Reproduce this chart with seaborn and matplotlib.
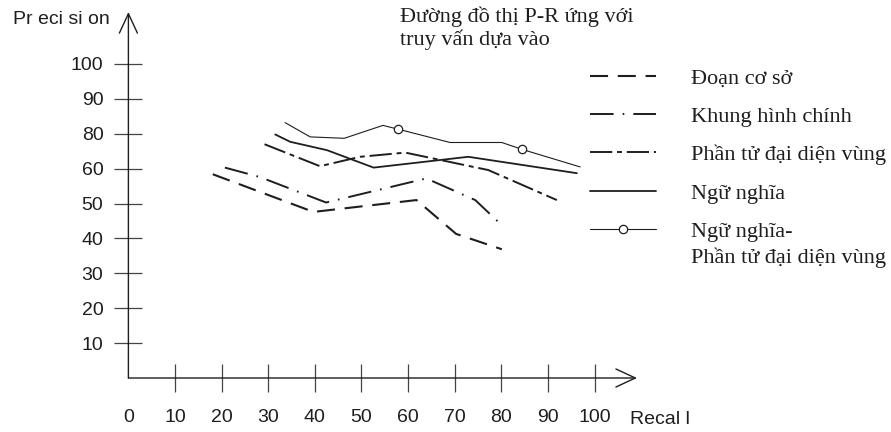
import matplotlib
matplotlib.use("Agg")
import matplotlib.pyplot as plt
from matplotlib.legend_handler import HandlerLine2D
import seaborn as sns
import pandas as pd

# values; y is in tick-position units (ticks at 10..90)
doan_x = [18.1, 39.7, 61.8, 70.3, 80.1]
doan_y = [58.4, 47.6, 51.0, 41.3, 36.9]

khung_x = [20.7, 28.2, 42.4, 63.9, 74.4, 79.7]
khung_y = [60.3, 57.6, 50.3, 57.2, 51.0, 44.3]

phantu_x = [29.2, 41.1, 49.7, 59.4, 77.2, 91.9]
phantu_y = [67.0, 60.7, 63.4, 64.6, 59.6, 51.0]

ngunghia_x = [31.5, 34.7, 42.6, 52.6, 72.9, 96.2]
ngunghia_y = [69.8, 67.7, 65.3, 60.3, 63.4, 58.7]

nn_pt_x = [33.6, 39.0, 46.3, 54.6, 57.9, 69.0, 80.1, 84.5, 96.9]
nn_pt_y = [73.2, 69.1, 68.7, 72.4, 71.3, 67.5, 67.5, 65.5, 60.5]
nn_pt_circles = [4, 7]

x_ticks = [0, 10, 20, 30, 40, 50, 60, 70, 80, 90, 100]
y_ticks = [10, 20, 30, 40, 50, 60, 70, 80, 90]
y_tick_labels = ['10', '20', '30', '40', '50', '60', '80', '90', '100']

names = ['Đoạn cơ sở', 'Khung hình chính', 'Phần tử đại diện vùng', 'Ngữ nghĩa', 'Ngữ nghĩa-']

sns.set_style('white')
plt.rcParams['lines.scale_dashes'] = False
plt.rcParams['font.family'] = ['Liberation Sans', 'DejaVu Sans']
serif = ['Liberation Serif', 'DejaVu Serif']
ink = '#1e1e1e'

fig = plt.figure(figsize=(8.91, 4.32), dpi=100)
ax = fig.add_axes([128.4 / 891, 54 / 432, (637 - 128.4) / 891, (378 - 12) / 432])

series = [
    (doan_x, doan_y, dict(lw=1.5, linestyle=(0, (13, 7)))),
    (khung_x, khung_y, dict(lw=1.4, linestyle=(0, (17, 6.5, 1.2, 6.5)))),
    (phantu_x, phantu_y, dict(lw=1.4, linestyle=(0, (16, 3.5, 3.5, 3.5)))),
    (ngunghia_x, ngunghia_y, dict(lw=1.3, linestyle='-')),
    (nn_pt_x, nn_pt_y, dict(lw=0.8, linestyle='-', marker='o', markersize=6,
                            markerfacecolor='white', markeredgecolor=ink,
                            markeredgewidth=0.9, markevery=nn_pt_circles)),
]

handles = []
for name, (xs, ys, kw) in zip(names, series):
    df = pd.DataFrame({'recall': xs, 'precision': ys})
    sns.lineplot(data=df, x='recall', y='precision', ax=ax, color=ink,
                 sort=False, estimator=None, **kw)
    handles.append(ax.lines[-1])

ax.set_xlim(0, 109.1)
ax.set_ylim(0, 104.9)
for s in ax.spines.values():
    s.set_visible(False)

arrow = dict(arrowstyle='->,head_length=1.4,head_width=0.65', lw=1.0, color=ink,
             shrinkA=0, shrinkB=0, mutation_scale=10)
ax.annotate('', xy=(1, 0), xytext=(0, 0), xycoords='axes fraction', arrowprops=arrow)
ax.annotate('', xy=(0, 1), xytext=(0, 0), xycoords='axes fraction', arrowprops=arrow)

ax.set_xticks(x_ticks)
ax.set_xticklabels([str(v) for v in x_ticks])
ax.set_yticks(y_ticks)
ax.set_yticklabels(y_tick_labels)
ax.tick_params(axis='both', bottom=True, left=True, direction='inout', length=20,
               width=0.9, color='#444444', labelsize=14, labelcolor=ink)
ax.tick_params(axis='x', pad=12)
ax.tick_params(axis='y', pad=8)
ax.xaxis.get_major_ticks()[0].tick1line.set_visible(False)
ax.set_xlabel('')
ax.set_ylabel('')

fig.text(13 / 891, 1 - 20 / 432, 'Pr eci si on', ha='left', va='center', fontsize=14, color=ink)
fig.text(630 / 891, 1 - 420 / 432, 'Recal l', ha='left', va='center', fontsize=14, color=ink)

fig.text(400 / 891, 1 - 22 / 432, 'Đường đồ thị P-R ứng với', va='baseline',
         fontsize=16, family=serif, color=ink)
fig.text(400 / 891, 1 - 45 / 432, 'truy vấn dựa vào', va='baseline',
         fontsize=16, family=serif, color=ink)


class LeftMarker(HandlerLine2D):
    def get_xdata(self, legend, xdescent, ydescent, width, height, fontsize):
        return [-xdescent, -xdescent + width], [-xdescent + 0.2 * width]


leg = fig.legend(handles, names, loc='upper left', bbox_to_anchor=(590 / 891, 1 - 68 / 432),
                 frameon=False, borderpad=0, borderaxespad=0, handlelength=2.95,
                 handletextpad=1.6, labelspacing=0.8,
                 prop={'family': serif, 'size': 16},
                 handler_map={handles[-1]: LeftMarker()})
for t in leg.get_texts():
    t.set_color(ink)
fig.text(691 / 891, 1 - 258 / 432, 'Phần tử đại diện vùng', va='center',
         fontsize=16, family=serif, color=ink)

fig.savefig('out.png', dpi=100)
